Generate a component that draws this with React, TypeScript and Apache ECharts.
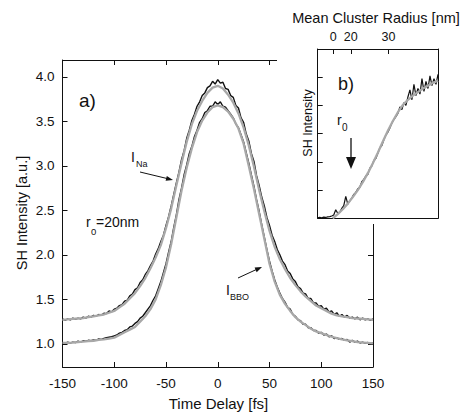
import React, { useEffect, useRef } from "react";
import * as echarts from "echarts";

// ---------- main panel (a) ----------
const fitTime = [-150, -145, -140, -135, -130, -125, -120, -115, -110, -105, -100, -95, -90, -85, -80, -75, -70, -65, -60, -55, -50, -45, -40, -35, -30, -25, -20, -15, -10, -5, 0, 5, 10, 15, 20, 25, 30, 35, 40, 45, 50, 55, 60, 65, 70, 75, 80, 85, 90, 95, 100, 105, 110, 115, 120, 125, 130, 135, 140, 145, 150];

const fitNa = [1.27, 1.275, 1.28, 1.285, 1.29, 1.30, 1.31, 1.32, 1.33, 1.35, 1.37, 1.41, 1.45, 1.51, 1.57, 1.65, 1.74, 1.85, 1.97, 2.11, 2.30, 2.52, 2.78, 3.03, 3.27, 3.47, 3.62, 3.73, 3.82, 3.88, 3.90,
  3.87, 3.80, 3.71, 3.59, 3.43, 3.23, 2.99, 2.73, 2.49, 2.27, 2.09, 1.95, 1.84, 1.74, 1.66, 1.59, 1.53, 1.48, 1.43, 1.40, 1.37, 1.34, 1.32, 1.31, 1.30, 1.29, 1.285, 1.28, 1.275, 1.27];

const fitBBO = [1.01, 1.012, 1.015, 1.02, 1.025, 1.03, 1.035, 1.045, 1.05, 1.06, 1.07, 1.10, 1.13, 1.16, 1.19, 1.25, 1.31, 1.39, 1.50, 1.66, 1.86, 2.12, 2.42, 2.72, 2.98, 3.20, 3.38, 3.51, 3.60, 3.66, 3.68,
  3.66, 3.61, 3.53, 3.42, 3.25, 3.00, 2.74, 2.46, 2.18, 1.90, 1.70, 1.55, 1.45, 1.37, 1.30, 1.25, 1.21, 1.17, 1.14, 1.12, 1.10, 1.08, 1.065, 1.05, 1.04, 1.03, 1.02, 1.015, 1.01, 1.005];

const dataTime = [-150, -147.5, -145, -142.5, -140, -137.5, -135, -132.5, -130, -127.5,
  -125, -122.5, -120, -117.5, -115, -112.5, -110, -107.5, -105, -102.5,
  -100, -97.5, -95, -92.5, -90, -87.5, -85, -82.5, -80, -77.5,
  -75, -72.5, -70, -67.5, -65, -62.5, -60, -57.5, -55, -52.5,
  -50, -47.5, -45, -42.5, -40, -37.5, -35, -32.5, -30, -27.5,
  -25, -22.5, -20, -17.5, -15, -12.5, -10, -7.5, -5, -2.5,
  0,
  2.5, 5, 7.5, 10, 12.5, 15, 17.5, 20, 22.5, 25,
  27.5, 30, 32.5, 35, 37.5, 40, 42.5, 45, 47.5, 50,
  52.5, 55, 57.5, 60, 62.5, 65, 67.5, 70, 72.5, 75,
  77.5, 80, 82.5, 85, 87.5, 90, 92.5, 95, 97.5, 100,
  102.5, 105, 107.5, 110, 112.5, 115, 117.5, 120, 122.5, 125,
  127.5, 130, 132.5, 135, 137.5, 140, 142.5, 145, 147.5, 150];

const dataNa = [1.28, 1.265, 1.28, 1.27, 1.29, 1.275, 1.29, 1.28, 1.30, 1.29,
  1.31, 1.30, 1.32, 1.31, 1.33, 1.32, 1.345, 1.34, 1.37, 1.36,
  1.39, 1.40, 1.43, 1.44, 1.48, 1.49, 1.54, 1.56, 1.61, 1.63,
  1.69, 1.72, 1.78, 1.82, 1.88, 1.93, 2.01, 2.07, 2.15, 2.22,
  2.33, 2.43, 2.55, 2.68, 2.81, 2.93, 3.07, 3.17, 3.31, 3.40,
  3.51, 3.58, 3.67, 3.72, 3.79, 3.82, 3.88, 3.90, 3.95, 3.92,
  3.97,
  3.93, 3.94, 3.87, 3.86, 3.79, 3.77, 3.68, 3.65, 3.54, 3.49,
  3.36, 3.28, 3.14, 3.05, 2.89, 2.78, 2.65, 2.55, 2.42, 2.33,
  2.22, 2.15, 2.06, 2.00, 1.93, 1.89, 1.82, 1.79, 1.73, 1.70,
  1.64, 1.62, 1.57, 1.56, 1.51, 1.51, 1.46, 1.46, 1.42, 1.43,
  1.39, 1.40, 1.36, 1.37, 1.33, 1.35, 1.31, 1.33, 1.30, 1.32,
  1.29, 1.30, 1.28, 1.30, 1.27, 1.29, 1.27, 1.28, 1.265, 1.28];

const dataBBO = [1.01, 1.005, 1.02, 1.01, 1.02, 1.015, 1.03, 1.02, 1.035, 1.03,
  1.04, 1.035, 1.045, 1.04, 1.055, 1.05, 1.06, 1.07, 1.075, 1.08,
  1.09, 1.10, 1.12, 1.13, 1.15, 1.16, 1.19, 1.20, 1.23, 1.25,
  1.29, 1.31, 1.35, 1.39, 1.43, 1.49, 1.54, 1.62, 1.70, 1.80,
  1.90, 2.03, 2.15, 2.31, 2.45, 2.62, 2.75, 2.90, 3.01, 3.14,
  3.22, 3.33, 3.40, 3.49, 3.53, 3.60, 3.62, 3.67, 3.67, 3.72,
  3.69,
  3.72, 3.67, 3.66, 3.62, 3.58, 3.54, 3.47, 3.43, 3.35, 3.27,
  3.15, 3.03, 2.90, 2.77, 2.62, 2.49, 2.34, 2.20, 2.06, 1.93,
  1.82, 1.72, 1.64, 1.57, 1.51, 1.47, 1.41, 1.39, 1.33, 1.31,
  1.27, 1.26, 1.22, 1.22, 1.18, 1.18, 1.15, 1.15, 1.12, 1.13,
  1.10, 1.11, 1.08, 1.09, 1.06, 1.07, 1.05, 1.06, 1.04, 1.05,
  1.02, 1.04, 1.02, 1.03, 1.01, 1.02, 1.005, 1.015, 1.0, 1.01];

const yTicks = [1.0, 1.5, 2.0, 2.5, 3.0, 3.5, 4.0];

// ---------- inset panel (b) ----------
const insetFitX = [15, 20, 25, 30, 35, 40, 45, 50, 55, 60, 65, 70, 75, 80, 85, 90, 95, 100, 105, 110, 115, 120];
const insetFitY = [0, 0.15, 0.32, 0.52, 0.75, 1.0, 1.28, 1.6, 1.95, 2.32, 2.72, 3.1, 3.45, 3.76, 4.02, 4.2, 4.35, 4.47, 4.6, 4.7, 4.8, 4.88];

const insetDataX = [0, 2, 4, 6, 8, 10, 12, 14, 16, 18, 20, 22, 24, 26, 28, 30, 32, 34, 36, 38, 40, 42, 44, 46, 48, 50, 52, 54, 56, 58, 60, 62, 64, 66, 68, 70, 72, 74, 76, 78, 80, 82, 84, 86, 88, 90, 92, 94, 96, 98, 100, 102, 104, 106, 108, 110, 112, 114, 116, 118, 120];
const insetDataY = [0.02, 0.03, 0.02, 0.04, 0.03, 0.05, 0.06, 0.08, 0.12, 0.3, 0.18, 0.22, 0.35, 0.45, 0.78, 0.5, 0.62, 0.72, 0.85, 0.92, 1.05, 1.1, 1.3, 1.38, 1.5, 1.55, 1.78, 1.85, 2.05, 2.12, 2.3, 2.5, 2.58, 2.78, 2.95, 3.05, 3.2, 3.38, 3.5, 3.6, 3.72, 3.95, 3.85, 4.1, 4.0, 4.3, 4.55, 4.2, 4.75, 4.35, 4.6, 4.4, 4.95, 4.5, 4.85, 4.6, 5.05, 4.7, 4.95, 4.75, 5.1];

const radiusTickPos = [15.6, 33, 70.6];
const radiusTickLabels = ["0", "20", "30"];

const FONT = "'Liberation Sans', Arial, Helvetica, sans-serif";
const INK = "#111";
const GRAY = "#a8a8a8";

function pairs(xs: number[], ys: number[]) {
  return xs.map((x, i) => [x, ys[i]]);
}

function txt(text: string, x: number, y: number, size: number, extra: any = {}) {
  return {
    type: "text",
    z: 30,
    x,
    y,
    rotation: extra.rotation || 0,
    style: {
      text,
      fill: INK,
      font: `${size}px ${FONT}`,
      textAlign: extra.align || "left",
      textVerticalAlign: extra.valign || "top",
    },
  };
}

export default function App() {
  const ref = useRef<HTMLDivElement>(null);
  useEffect(() => {
    if (!ref.current) return;
    const chart = echarts.init(ref.current, null, { renderer: "svg" });
    const axisLine = { show: true, onZero: false, lineStyle: { color: INK, width: 1 } };
    const option: any = {
      animation: false,
      backgroundColor: "#fff",
      grid: [
        { left: 62.5, top: 60, width: 310.5, height: 307, show: false },
        { left: 317.7, top: 49, width: 120.3, height: 169.3, show: false, z: 10 },
      ],
      xAxis: [
        {
          gridIndex: 0, type: "value", min: -150, max: 150, interval: 50, position: "bottom",
          axisLine, splitLine: { show: false },
          axisTick: { inside: true, length: 5, lineStyle: { color: INK } },
          axisLabel: { color: INK, fontSize: 13.5, fontFamily: FONT, margin: 9 },
        },
        {
          gridIndex: 0, type: "value", min: -150, max: 150, interval: 50, position: "top",
          axisLine, splitLine: { show: false },
          axisTick: { inside: true, length: 5, lineStyle: { color: INK } },
          axisLabel: { show: false },
        },
        {
          gridIndex: 1, type: "value", min: 0, max: 120, position: "bottom", z: 12,
          axisLine, splitLine: { show: false }, axisTick: { show: false }, axisLabel: { show: false },
        },
        {
          gridIndex: 1, type: "value", min: 0, max: 120, position: "top", z: 12,
          axisLine, splitLine: { show: false },
          axisTick: { inside: true, length: 5, customValues: radiusTickPos, lineStyle: { color: INK } },
          axisLabel: {
            color: INK, fontSize: 12.5, fontFamily: FONT, margin: 6, customValues: radiusTickPos,
            formatter: (v: number) => {
              const i = radiusTickPos.findIndex((p) => Math.abs(p - v) < 0.01);
              return i >= 0 ? radiusTickLabels[i] : "";
            },
          },
        },
      ],
      yAxis: [
        {
          gridIndex: 0, type: "value", min: 0.74, max: 4.19, position: "left",
          axisLine, splitLine: { show: false },
          axisTick: { inside: true, length: 5, customValues: yTicks, lineStyle: { color: INK } },
          axisLabel: {
            color: INK, fontSize: 13.5, fontFamily: FONT, margin: 8, customValues: yTicks,
            formatter: (v: number) => v.toFixed(1),
          },
        },
        {
          gridIndex: 0, type: "value", min: 0.74, max: 4.19, position: "right",
          axisLine, splitLine: { show: false },
          axisTick: { inside: true, length: 5, customValues: yTicks, lineStyle: { color: INK } },
          axisLabel: { show: false },
        },
        {
          gridIndex: 1, type: "value", min: 0, max: 6, interval: 1, position: "left", z: 12,
          axisLine, splitLine: { show: false },
          axisTick: { inside: true, length: 5, lineStyle: { color: INK } },
          axisLabel: { show: false },
        },
        {
          gridIndex: 1, type: "value", min: 0, max: 6, position: "right", z: 12,
          axisLine, splitLine: { show: false }, axisTick: { show: false }, axisLabel: { show: false },
        },
      ],
      series: [
        {
          type: "line", xAxisIndex: 0, yAxisIndex: 0, data: pairs(dataTime, dataBBO),
          showSymbol: false, symbol: "none", z: 2, lineStyle: { color: INK, width: 1.4 },
        },
        {
          type: "line", xAxisIndex: 0, yAxisIndex: 0, data: pairs(dataTime, dataNa),
          showSymbol: false, symbol: "none", z: 2, lineStyle: { color: INK, width: 1.4 },
        },
        {
          type: "line", xAxisIndex: 0, yAxisIndex: 0, data: pairs(fitTime, fitBBO),
          showSymbol: false, symbol: "none", z: 3, lineStyle: { color: GRAY, width: 2.3 },
        },
        {
          type: "line", xAxisIndex: 0, yAxisIndex: 0, data: pairs(fitTime, fitNa),
          showSymbol: false, symbol: "none", z: 3, lineStyle: { color: GRAY, width: 2.3 },
        },
        {
          type: "line", xAxisIndex: 2, yAxisIndex: 2, data: pairs(insetDataX, insetDataY),
          showSymbol: false, symbol: "none", z: 12, lineStyle: { color: INK, width: 1.2 },
        },
        {
          type: "line", xAxisIndex: 2, yAxisIndex: 2, data: pairs(insetFitX, insetFitY),
          showSymbol: false, symbol: "none", z: 13, lineStyle: { color: GRAY, width: 2.3 },
        },
      ],
      graphic: {
        elements: [
          { type: "rect", z: 5, shape: { x: 277, y: 0, width: 191, height: 224 }, style: { fill: "#fff" } },
          // main panel texts
          txt("a)", 79, 91, 19),
          txt("I", 131, 150, 14),
          txt("Na", 136, 159, 9),
          { type: "line", z: 30, shape: { x1: 140, y1: 172, x2: 167, y2: 178.5 }, style: { stroke: INK, lineWidth: 1 } },
          { type: "polygon", z: 30, shape: { points: [[173, 180], [165.6, 180.8], [166.8, 175.9]] }, style: { fill: INK } },
          txt("r", 86, 215, 14),
          txt("0", 91, 226, 9.5),
          txt("=20nm", 96, 215, 14),
          txt("I", 226, 283, 14),
          txt("BBO", 230, 292, 9),
          { type: "line", z: 30, shape: { x1: 238, y1: 278, x2: 256, y2: 269.7 }, style: { stroke: INK, lineWidth: 1 } },
          { type: "polygon", z: 30, shape: { points: [[262, 267], [256.7, 272.2], [254.6, 267.6]] }, style: { fill: INK } },
          txt("SH Intensity [a.u.]", 22, 213, 14.5, { rotation: Math.PI / 2, align: "center", valign: "middle" }),
          txt("Time Delay [fs]", 218.5, 403, 15, { align: "center", valign: "middle" }),
          // inset texts
          txt("Mean Cluster Radius [nm]", 376, 18, 14.5, { align: "center", valign: "middle" }),
          txt("SH Intensity", 308, 123, 12.5, { rotation: Math.PI / 2, align: "center", valign: "middle" }),
          txt("b)", 338, 75, 18),
          txt("r", 337, 113, 14),
          txt("0", 342, 122, 10),
          { type: "line", z: 30, shape: { x1: 351, y1: 138, x2: 351, y2: 160 }, style: { stroke: INK, lineWidth: 1.3 } },
          { type: "polygon", z: 30, shape: { points: [[346, 157], [356, 157], [351, 169]] }, style: { fill: INK } },
        ],
      },
    };
    chart.setOption(option);
    return () => chart.dispose();
  }, []);
  return (
    <div
      ref={ref}
      style={{ position: "fixed", left: 0, top: 0, width: 468, height: 414, background: "#fff" }}
    />
  );
}
